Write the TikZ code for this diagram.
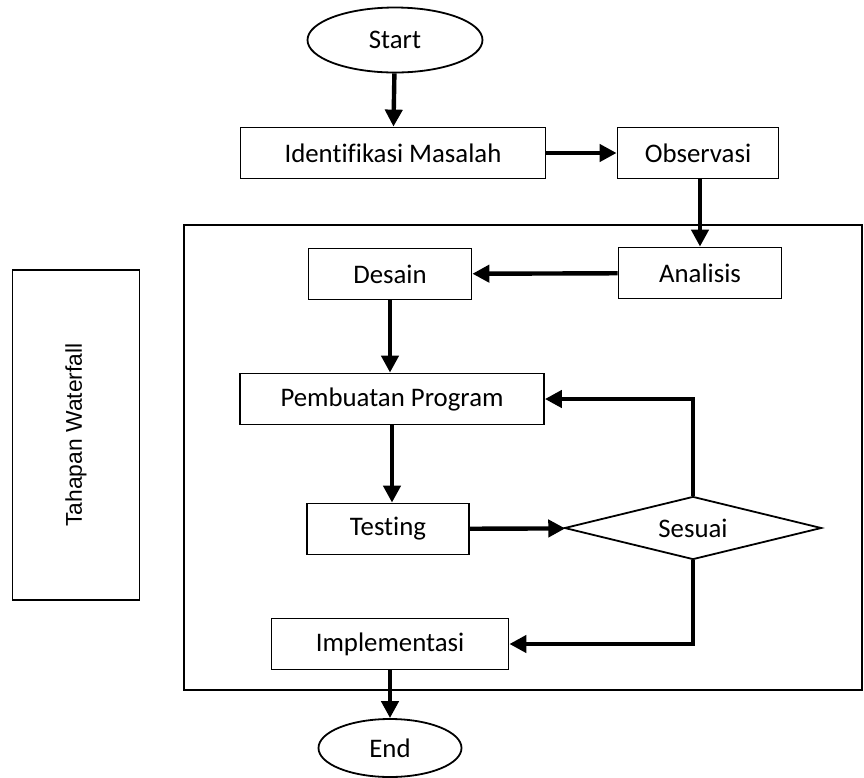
\documentclass[tikz,border=0pt]{standalone}
\usepackage{fontspec}
\setmainfont[Ligatures=NoCommon]{Carlito}
\newfontfamily\arialfont{Liberation Sans}
\usetikzlibrary{shapes.geometric, arrows.meta, positioning}

\begin{document}
\begin{tikzpicture}[x=0.5pt, y=-0.5pt,
    box/.style={draw, line width=0.9pt, inner sep=0pt, minimum height=25.5pt,
        font=\fontsize{13.4}{15}\selectfont},
    term/.style={draw, ellipse, line width=0.9pt, inner sep=0pt,
        font=\fontsize{13.4}{15}\selectfont},
    decide/.style={draw, diamond, aspect=4, line width=0.9pt, inner sep=0pt,
        font=\fontsize{13.4}{15}\selectfont},
    flow/.style={line width=2.2pt, -{Triangle[length=8.5pt, width=8.5pt]}}]
\useasboundingbox (0,0) rectangle (864,778);

% frame of the waterfall stages
\draw[line width=0.9pt] (184,225) rectangle (862,690);
\node[draw, line width=0.9pt, minimum width=63.5pt, minimum height=165pt] (tahap) at (76,435) {};
\node[rotate=90, font=\arialfont\fontsize{11.4}{13}\selectfont] (tahaplbl) at (tahap.center) {Tahapan Waterfall};

% nodes
\node[term, minimum width=87.5pt, minimum height=32.5pt] (start) at (395,40) {Start};
\node[box, minimum width=152.5pt] (ident) at (393,153) {Identifikasi Masalah};
\node[box, minimum width=80.5pt] (obs) at (698,153) {Observasi};
\node[box, minimum width=81.5pt] (anls) at (700,273) {Analisis};
\node[box, minimum width=81.5pt] (desain) at (390,274) {Desain};
\node[box, minimum width=152pt] (prog) at (392,399) {Pembuatan Program};
\node[box, minimum width=81pt] (test) at (388,529) {Testing};
\node[decide, minimum width=128.5pt, minimum height=31.5pt] (sesuai) at (693,528) {Sesuai};
\node[box, minimum width=118.5pt] (impl) at (390,644) {Implementasi};
\node[term, minimum width=71.5pt, minimum height=29pt] (end) at (390,748) {End};

% connectors
\draw[flow] (start) -- (ident);
\draw[flow] (ident) -- (obs);
\draw[flow] (obs.south -| anls.north) -- (anls);
\draw[flow] (anls) -- (desain);
\draw[flow] (desain.south) -- (desain.south |- prog.north);
\draw[flow] (prog.south) -- (prog.south |- test.north);
\draw[flow] (test) -- (sesuai);
\draw[flow] (sesuai.north) |- (prog.east);
\draw[flow] (sesuai.south) |- (impl.east);
\draw[flow] (impl.south) -- (impl.south |- end.north);
\end{tikzpicture}
\end{document}
